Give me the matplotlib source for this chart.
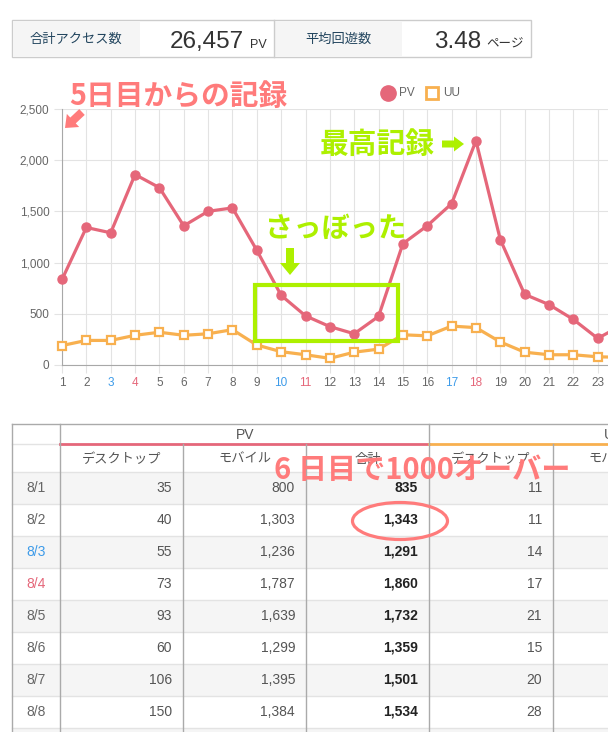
import matplotlib
matplotlib.use('Agg')
import matplotlib.pyplot as plt
from matplotlib.patches import Rectangle, Ellipse, FancyArrow

plt.rcParams['font.family'] = ['Liberation Sans', 'Noto Sans CJK JP']

# === chart data ===
days = list(range(1, 25))
pv = [835, 1343, 1291, 1860, 1732, 1359, 1501, 1534, 1120, 680, 480, 375, 305, 475,
      1185, 1360, 1575, 2190, 1225, 690, 590, 445, 260, 390]
uu = [190, 240, 240, 290, 320, 290, 305, 345, 195, 130, 100, 65, 125, 155,
      295, 285, 380, 365, 225, 125, 100, 100, 80, 75]
y_ticks = [0, 500, 1000, 1500, 2000, 2500]
sat_days = [3, 10, 17, 24]
sun_days = [4, 11, 18]

# === table data ===
dates = ['8/1', '8/2', '8/3', '8/4', '8/5', '8/6', '8/7', '8/8']
pv_desktop = [35, 40, 55, 73, 93, 60, 106, 150]
pv_mobile = [800, 1303, 1236, 1787, 1639, 1299, 1395, 1384]
pv_total = [835, 1343, 1291, 1860, 1732, 1359, 1501, 1534]
uu_desktop = [11, 11, 14, 17, 21, 15, 20, 28]
sub_headers = ['デスクトップ', 'モバイル', '合計', 'デスクトップ', 'モバイル']

total_access = '26,457'
avg_pages = '3.48'

W, H = 608, 732
red = '#e5677a'
orange = '#f8b04f'
pink = '#ff7b7b'
lime = '#adf000'
blue = '#3d9be9'
jp = ['Noto Sans CJK JP', 'DejaVu Sans']

fig = plt.figure(figsize=(W / 100, H / 100), dpi=100)

# --- line chart ---
ax = fig.add_axes([62 / W, 1 - 365 / H, (W - 62) / W, 256 / H])
ax.set_xlim(1, 1 + (W - 62) / 24.35)
ax.set_ylim(0, 2500)
ax.set_xticks(days[:23])
ax.set_yticks(y_ticks)
ax.set_yticklabels([f'{v:,}' for v in y_ticks])
ax.grid(color='#e3e3e3', lw=0.8)
ax.set_axisbelow(True)
for s in ['top', 'right']:
    ax.spines[s].set_visible(False)
for s in ['left', 'bottom']:
    ax.spines[s].set_color('#a8a8a8')
    ax.spines[s].set_linewidth(0.8)
ax.tick_params(length=6, color='#e3e3e3', labelsize=8.5, labelcolor='#666666', pad=3)
for lab, d in zip(ax.get_xticklabels(), days[:23]):
    if d in sat_days:
        lab.set_color(blue)
    elif d in sun_days:
        lab.set_color(red)

ax.plot(days, uu, color=orange, lw=2.3, marker='s', ms=6, mfc='white', mec=orange,
        mew=1.6, clip_on=False, zorder=3)
ax.plot(days, pv, color=red, lw=2.3, marker='o', ms=6.5, clip_on=False, zorder=4)

# --- overlay in pixel coordinates ---
ov = fig.add_axes([0, 0, 1, 1])
ov.set_xlim(0, W)
ov.set_ylim(H, 0)
ov.axis('off')

# header box
ov.add_patch(Rectangle((12, 20), 519, 37, fc='white', ec='#cccccc', lw=1))
ov.add_patch(Rectangle((12.5, 20.5), 127, 36, fc='#f5f5f5', ec='none'))
ov.add_patch(Rectangle((274, 20.5), 128, 36, fc='#f5f5f5', ec='none'))
ov.plot([274, 274], [20, 57], color='#cccccc', lw=1)
ov.text(76, 39, '合計アクセス数', family=jp, fontsize=9.5, color='#22455e', ha='center', va='center')
ov.text(338, 39, '平均回遊数', family=jp, fontsize=9.5, color='#22455e', ha='center', va='center')
ov.text(244, 48, total_access, fontsize=17.5, color='#333333', ha='right', va='baseline')
ov.text(250, 48, 'PV', fontsize=9, color='#333333', ha='left', va='baseline')
ov.text(481, 48, avg_pages, fontsize=17.5, color='#333333', ha='right', va='baseline')
ov.text(486, 48, 'ページ', family=jp, fontsize=9, color='#333333', ha='left', va='baseline')

# legend
ov.plot([388], [93], 'o', color=red, ms=11)
ov.text(399, 93, 'PV', fontsize=8.5, color='#666666', va='center')
ov.plot([432], [93], 's', mfc='white', mec=orange, mew=2, ms=8)
ov.text(443, 93, 'UU', fontsize=8.5, color='#666666', va='center')

# chart annotations
ov.text(69, 96, '5日目からの記録', family=jp, fontsize=20.7, weight='bold', color=pink, va='center')
ov.add_patch(FancyArrow(82, 112, -17, 16, width=8, head_width=18, head_length=11,
                        length_includes_head=True, color=pink, lw=0))
ov.text(320, 144, '最高記録', family=jp, fontsize=20.7, weight='bold', color=lime, va='center')
ov.add_patch(FancyArrow(442, 144, 22, 0, width=7, head_width=15, head_length=10,
                        length_includes_head=True, color=lime, lw=0))
ov.text(265, 229, 'さっぼった', family=jp, fontsize=20.3, weight='bold', color=lime, va='center')
ov.add_patch(FancyArrow(290, 248, 0, 27, width=8, head_width=20, head_length=12,
                        length_includes_head=True, color=lime, lw=0))
ov.add_patch(Rectangle((254.5, 284.5), 143, 56, fill=False, ec=lime, lw=3))

# --- table ---
cols = [12, 60, 183, 306, 429, 553, 676]
row0 = 472
rh = 32
for i in range(9):
    if i % 2 == 0:
        ov.add_patch(Rectangle((12, row0 + i * rh), W - 12, rh, fc='#f5f5f5', ec='none'))
for i in range(10):
    ov.plot([12, W], [row0 + i * rh] * 2, color='#e3e3e3', lw=1)
ov.plot([12, W], [424, 424], color='#aaaaaa', lw=1)
ov.plot([12, 60], [444, 444], color='#e3e3e3', lw=1)
ov.plot([60, 429], [444, 444], color=red, lw=2)
ov.plot([429, W], [444, 444], color=orange, lw=2)
for x in [12, 60, 429]:
    ov.plot([x, x], [424, H], color='#aaaaaa', lw=1)
for x in [183, 306, 553]:
    ov.plot([x, x], [444, H], color='#aaaaaa', lw=1)

ov.text(245, 435, 'PV', fontsize=10, color='#555555', ha='center', va='center')
ov.text(614, 435, 'UU', fontsize=10, color='#555555', ha='center', va='center')
for j, lab in enumerate(sub_headers):
    ov.text((cols[j + 1] + cols[j + 2]) / 2, 459, lab, family=jp, fontsize=9.5,
            color='#555555', ha='center', va='center')

for i, d in enumerate(dates):
    yc = row0 + i * rh + rh / 2
    dc = '#666666'
    if i + 1 in sat_days:
        dc = blue
    elif i + 1 in sun_days:
        dc = red
    ov.text(36, yc, d, fontsize=10, color=dc, ha='center', va='center')
    ov.text(cols[2] - 11, yc, f'{pv_desktop[i]:,}', fontsize=10, color='#555555', ha='right', va='center')
    ov.text(cols[3] - 11, yc, f'{pv_mobile[i]:,}', fontsize=10, color='#555555', ha='right', va='center')
    ov.text(cols[4] - 11, yc, f'{pv_total[i]:,}', fontsize=10, weight='bold', color='#222222', ha='right', va='center')
    ov.text(cols[5] - 11, yc, f'{uu_desktop[i]:,}', fontsize=10, color='#555555', ha='right', va='center')

# table annotations
ov.text(274, 470, '6 日目で1000オーバー', family=jp, fontsize=21, weight='bold', color=pink, va='center', zorder=10)
ov.add_patch(Ellipse((400, 521), 95, 37, fill=False, ec=pink, lw=2.3, zorder=10))

fig.savefig('out.png', dpi=100)
